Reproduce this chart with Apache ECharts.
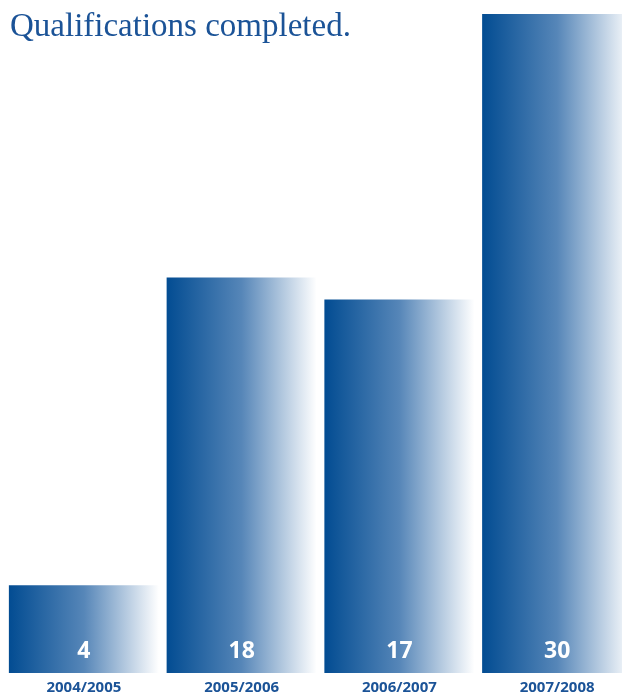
<!DOCTYPE html>
<html>
<head>
<meta charset="utf-8">
<script src="https://cdn.jsdelivr.net/npm/echarts@6/dist/echarts.min.js"></script>
<style>
  html, body { margin: 0; padding: 0; background: #ffffff; overflow: hidden; }
  /* canvas runs a little past the right edge so the last bar is cut off */
  #chart { width: 636px; height: 695px; }
</style>
</head>
<body>
<div id="chart"></div>
<script>
// Academic years and qualifications completed in each
const years = ['2004/2005', '2005/2006', '2006/2007', '2007/2008'];
const completed = [4, 18, 17, 30];

const chart = echarts.init(document.getElementById('chart'), null, { renderer: 'canvas' });

// Horizontal fade from deep blue to white across each bar
const barFill = new echarts.graphic.LinearGradient(0, 0, 1, 0, [
  { offset: 0, color: '#024c92' },
  { offset: 0.5, color: '#5686b8' },
  { offset: 1, color: '#ffffff' }
]);

chart.setOption({
  animation: false,
  backgroundColor: '#ffffff',
  title: {
    text: 'Qualifications completed.',
    left: 5,
    top: 6,
    textStyle: {
      fontFamily: 'Liberation Serif',
      fontWeight: 'normal',
      fontSize: 33,
      color: '#1b5397'
    }
  },
  grid: { left: 5, top: 14, right: 0, bottom: 21, containLabel: false },
  xAxis: {
    type: 'category',
    data: years,
    axisLine: { show: false },
    axisTick: { show: false },
    axisLabel: {
      margin: 7,
      fontFamily: 'Open Sans',
      fontWeight: 'bold',
      fontSize: 15,
      color: '#1b5397'
    }
  },
  yAxis: {
    type: 'value',
    min: 0,
    max: 30,
    show: false,
    splitLine: { show: false }
  },
  series: [{
    type: 'bar',
    data: completed,
    barWidth: 150,
    itemStyle: { color: barFill },
    label: {
      show: true,
      position: 'insideBottom',
      distance: 10,
      fontFamily: 'Open Sans',
      fontWeight: 'bold',
      fontSize: 23,
      color: '#ffffff'
    }
  }]
});
</script>
</body>
</html>
